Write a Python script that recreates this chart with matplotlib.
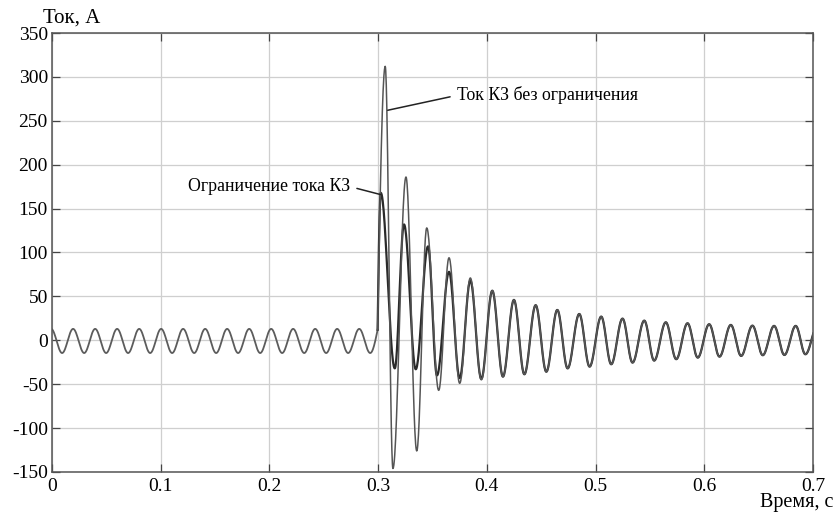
import numpy as np
import matplotlib
matplotlib.use("Agg")
from matplotlib import pyplot as plt

# steady state before the fault (same for both cases), extrema
t_pre = [-0.0008, 0.0093, 0.0194, 0.0296, 0.0397, 0.0498, 0.0599, 0.0700,
         0.0802, 0.0903, 0.1004, 0.1105, 0.1206, 0.1308, 0.1409, 0.1510,
         0.1611, 0.1712, 0.1814, 0.1915, 0.2016, 0.2117, 0.2218, 0.2320,
         0.2421, 0.2522, 0.2623, 0.2724, 0.2826, 0.2927]
i_pre = [13, -14.5, 13, -14.5, 13, -14.5, 13, -14.5, 13, -14.5, 13, -14.5,
         13, -14.5, 13, -14.5, 13, -14.5, 13, -14.5, 13, -14.5, 13, -14.5,
         13, -14.5, 13, -14.5, 13, -14.5]

# moment of the fault
t_onset = 0.2995
i_onset = 12.0

# first extrema after the fault
t_unlim = [0.3065, 0.3136, 0.3256, 0.3355, 0.3447, 0.3557, 0.3652, 0.3750, 0.3848, 0.3949]
i_unlim = [312, -146, 186, -126, 128, -57, 94, -49, 71, -45]
t_lim = [0.3024, 0.3153, 0.3238, 0.3346, 0.3459, 0.3541, 0.3652, 0.3750, 0.3848, 0.3949]
i_lim = [168, -32, 132, -33, 107, -40, 78, -43, 68, -44]

# decaying tail, where both curves coincide
t_tail = [0.4050, 0.4148, 0.4249, 0.4345, 0.4449, 0.4547, 0.4648, 0.4743,
          0.4850, 0.4945, 0.5052, 0.5144, 0.5248, 0.5340, 0.5448, 0.5539,
          0.5646, 0.5742, 0.5846, 0.5940, 0.6045, 0.6140, 0.6244, 0.6339,
          0.6443, 0.6538, 0.6642, 0.6737, 0.6841, 0.6930, 0.7041]
i_tail = [56.5, -41.4, 46, -38.7, 40, -35.8, 34.6, -32, 30, -30, 27, -27.3,
          24.7, -25.4, 22.4, -23.1, 20.5, -21.5, 19.4, -19.7, 18.3, -18.6,
          17.5, -17.8, 16.7, -17, 16.4, -16.7, 16.4, -15.9, 16.3]

x_ticks = [0, 0.1, 0.2, 0.3, 0.4, 0.5, 0.6, 0.7]
x_tick_labels = ["0", "0.1", "0.2", "0.3", "0.4", "0.5", "0.6", "0.7"]
y_ticks = [-150, -100, -50, 0, 50, 100, 150, 200, 250, 300, 350]


def smooth(ts, vs, kinds, n=30):
    """Join extrema with half-cosine arcs.
    kinds[k] is False for a point that is not an extremum (fault onset)."""
    out_t, out_v = [ts[0]], [vs[0]]
    for k in range(len(ts) - 1):
        s = np.linspace(0, 1, n)[1:]
        if kinds[k] and kinds[k + 1]:
            f = (1 - np.cos(np.pi * s)) / 2
        elif kinds[k]:
            f = 1 - np.cos(np.pi / 2 * s)
        else:
            f = np.sin(np.pi / 2 * s)
        out_t.extend(ts[k] + (ts[k + 1] - ts[k]) * s)
        out_v.extend(vs[k] + (vs[k + 1] - vs[k]) * f)
    return np.array(out_t), np.array(out_v)


plt.rcParams["font.family"] = ["Liberation Serif", "DejaVu Serif"]
plt.rcParams["axes.unicode_minus"] = False

fig = plt.figure(figsize=(8.34, 5.13), dpi=100)
ax = fig.add_axes([52 / 834, 1 - 472 / 513, 761 / 834, 439 / 513])

tp, vp = smooth(t_pre + [t_onset], i_pre + [i_onset], [True] * len(t_pre) + [False])
tu, vu = smooth([t_onset] + t_unlim + t_tail, [i_onset] + i_unlim + i_tail,
                [False] + [True] * (len(t_unlim) + len(t_tail)))
tl, vl = smooth([t_onset] + t_lim + t_tail, [i_onset] + i_lim + i_tail,
                [False] + [True] * (len(t_lim) + len(t_tail)))

ax.plot(tp, vp, color="#5c5c5c", lw=1.3)
ax.plot(tl, vl, color="#2a2a2a", lw=1.6)
ax.plot(tu, vu, color="#555555", lw=1.1)

ax.set_xlim(0, 0.7)
ax.set_ylim(-150, 350)
ax.set_xticks(x_ticks)
ax.set_xticklabels(x_tick_labels)
ax.set_yticks(y_ticks)
ax.grid(True, color="#cfcfcf", lw=0.9)
ax.tick_params(direction="in", length=6, width=0.9, color="#444444",
               top=True, right=True, labelsize=14)
ax.tick_params(axis="y", pad=3)
ax.tick_params(axis="x", pad=4)
for sp in ax.spines.values():
    sp.set_color("#555555")
    sp.set_linewidth(1.1)

ax.annotate("Ограничение тока КЗ", xy=(0.3022, 166), xytext=(0.2742, 175),
            ha="right", va="center", fontsize=12.8,
            arrowprops=dict(arrowstyle="-", color="#222222", lw=1.1,
                            relpos=(1, 0.5), shrinkA=3, shrinkB=0))
ax.annotate("Ток КЗ без ограничения", xy=(0.3088, 262), xytext=(0.3725, 279),
            ha="left", va="center", fontsize=12.8,
            arrowprops=dict(arrowstyle="-", color="#222222", lw=1.1,
                            relpos=(0, 0.5), shrinkA=3, shrinkB=0))

fig.text(43 / 834, 1 - 18 / 513, "Ток, А", ha="left", va="center", fontsize=15)
fig.text(833 / 834, 1 - 503 / 513, "Время, с", ha="right", va="center", fontsize=14.5)

fig.savefig("out.png", dpi=100)
